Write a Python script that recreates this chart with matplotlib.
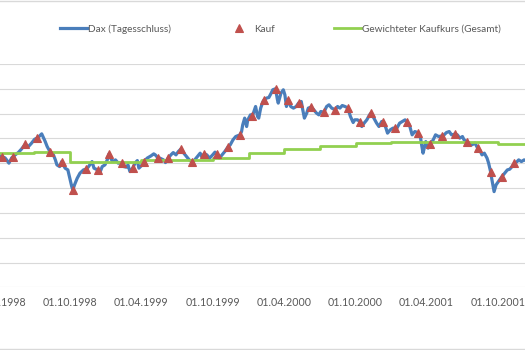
import matplotlib
matplotlib.use('Agg')
import matplotlib.pyplot as plt
import matplotlib.dates as mdates
from matplotlib.lines import Line2D
import pandas as pd

# DAX Tagesschluss (Auszug)
dax_daten = [
    '1998-04-01', '1998-04-08', '1998-04-17', '1998-04-21', '1998-04-27', '1998-05-04',
    '1998-05-08', '1998-05-13', '1998-05-21', '1998-05-29', '1998-06-08', '1998-06-16',
    '1998-06-24', '1998-07-02', '1998-07-09', '1998-07-20', '1998-07-29', '1998-08-03',
    '1998-08-10', '1998-08-19', '1998-08-24', '1998-08-28', '1998-09-04', '1998-09-09',
    '1998-09-18', '1998-09-25', '1998-10-01', '1998-10-05', '1998-10-08', '1998-10-12',
    '1998-10-19', '1998-10-26', '1998-11-04', '1998-11-10', '1998-11-16', '1998-11-23',
    '1998-11-26', '1998-12-01', '1998-12-10', '1998-12-16', '1998-12-22', '1998-12-29',
    '1999-01-04', '1999-01-08', '1999-01-15', '1999-01-19', '1999-01-25', '1999-02-01',
    '1999-02-10', '1999-02-15', '1999-02-22', '1999-02-26', '1999-03-03', '1999-03-10',
    '1999-03-16', '1999-03-22', '1999-03-26', '1999-04-01', '1999-04-09', '1999-04-16',
    '1999-04-26', '1999-05-03', '1999-05-07', '1999-05-13', '1999-05-19', '1999-05-28',
    '1999-06-02', '1999-06-09', '1999-06-16', '1999-06-22', '1999-06-29', '1999-07-05',
    '1999-07-12', '1999-07-19', '1999-07-26', '1999-08-02', '1999-08-10', '1999-08-16',
    '1999-08-23', '1999-08-30', '1999-09-03', '1999-09-10', '1999-09-16', '1999-09-23',
    '1999-10-01', '1999-10-07', '1999-10-11', '1999-10-18', '1999-10-25', '1999-11-01',
    '1999-11-10', '1999-11-15', '1999-11-22', '1999-11-29', '1999-12-10', '1999-12-14',
    '1999-12-17', '1999-12-22', '1999-12-27', '1999-12-30', '2000-01-06', '2000-01-11',
    '2000-01-19', '2000-01-24', '2000-01-27', '2000-02-01', '2000-02-07', '2000-02-10',
    '2000-02-16', '2000-02-22', '2000-02-28', '2000-03-03', '2000-03-10', '2000-03-15',
    '2000-03-17', '2000-03-24', '2000-03-30', '2000-04-03', '2000-04-07', '2000-04-11',
    '2000-04-18', '2000-04-25', '2000-05-02', '2000-05-08', '2000-05-15', '2000-05-18',
    '2000-05-23', '2000-05-29', '2000-06-02', '2000-06-09', '2000-06-16', '2000-06-23',
    '2000-06-29', '2000-07-04', '2000-07-12', '2000-07-19', '2000-07-25', '2000-08-01',
    '2000-08-10', '2000-08-16', '2000-08-22', '2000-08-28', '2000-09-04', '2000-09-11',
    '2000-09-18', '2000-09-25', '2000-09-29', '2000-10-06', '2000-10-13', '2000-10-17',
    '2000-10-23', '2000-10-30', '2000-11-06', '2000-11-10', '2000-11-17', '2000-11-24',
    '2000-11-30', '2000-12-07', '2000-12-11', '2000-12-18', '2000-12-22', '2000-12-29',
    '2001-01-05', '2001-01-10', '2001-01-15', '2001-01-22', '2001-01-29', '2001-02-05',
    '2001-02-09', '2001-02-16', '2001-02-23', '2001-03-02', '2001-03-09', '2001-03-16',
    '2001-03-20', '2001-03-23', '2001-03-30', '2001-04-05', '2001-04-11', '2001-04-18',
    '2001-04-24', '2001-05-02', '2001-05-11', '2001-05-16', '2001-05-22', '2001-05-29',
    '2001-06-04', '2001-06-12', '2001-06-19', '2001-06-25', '2001-07-02', '2001-07-06',
    '2001-07-13', '2001-07-20', '2001-07-26', '2001-08-03', '2001-08-10', '2001-08-15',
    '2001-08-21', '2001-08-27', '2001-09-03', '2001-09-07', '2001-09-12', '2001-09-14',
    '2001-09-18', '2001-09-21', '2001-09-26', '2001-10-05', '2001-10-11', '2001-10-18',
    '2001-10-25', '2001-10-31', '2001-11-06', '2001-11-12', '2001-11-19', '2001-11-23',
    '2001-11-30', '2001-12-07', '2001-12-12',
]
dax_werte = [
    5311, 5271, 5218, 5138, 5005, 5218,
    5271, 5340, 5432, 5570, 5771, 5675,
    5812, 5973, 6014, 6187, 5876, 5675,
    5473, 5340, 5138, 4936, 4867, 5069,
    4803, 4734, 4331, 4060, 3927, 4129,
    4399, 4601, 4734, 4762, 4843, 5005,
    5069, 4803, 4734, 4625, 4867, 4936,
    5138, 5368, 5138, 5069, 5138, 5005,
    5029, 4867, 4843, 4936, 4666, 4803,
    5005, 5110, 4803, 4896, 5069, 5206,
    5299, 5380, 5340, 5231, 5206, 5138,
    5029, 5206, 5340, 5432, 5340, 5473,
    5582, 5408, 5271, 5138, 5045, 5138,
    5271, 5408, 5271, 5380, 5340, 5206,
    5340, 5449, 5380, 5206, 5340, 5473,
    5675, 5743, 5945, 6078, 6147, 6280,
    6550, 6821, 6482, 6752, 6954, 6914,
    7289, 6885, 6821, 7224, 7491, 7559,
    7628, 7652, 7830, 7963, 8003, 7559,
    7426, 7830, 7963, 7761, 7289, 7559,
    7289, 7224, 7289, 7426, 7491, 7224,
    6821, 7023, 7224, 7265, 7156, 7023,
    6954, 7087, 7063, 7289, 7358, 7224,
    7156, 7289, 7224, 7329, 7289, 7236,
    6885, 6643, 6752, 6752, 6672, 6482,
    6619, 6752, 6954, 7023, 6821, 6619,
    6482, 6684, 6684, 6417, 6215, 6349,
    6417, 6417, 6417, 6619, 6684, 6752,
    6659, 6550, 6147, 6280, 6240, 6078,
    5675, 5408, 5876, 5610, 5771, 5945,
    6147, 6078, 6106, 6147, 6240, 6280,
    6147, 6175, 6147, 6014, 6078, 5945,
    5876, 5812, 5743, 5812, 5610, 5541,
    5340, 5408, 5206, 5005, 4666, 4464,
    4129, 3858, 4129, 4331, 4464, 4601,
    4734, 4762, 4867, 5005, 5069, 5138,
    5069, 5138, 5100,
]

# monatliche Kaeufe
kauf_daten = [
    '1998-04-08', '1998-05-08', '1998-06-08', '1998-07-09', '1998-08-10', '1998-09-09',
    '1998-10-08', '1998-11-10', '1998-12-10', '1999-01-08', '1999-02-10', '1999-03-10',
    '1999-04-09', '1999-05-13', '1999-06-09', '1999-07-12', '1999-08-10', '1999-09-10',
    '1999-10-11', '1999-11-10', '1999-12-10', '2000-01-11', '2000-02-10', '2000-03-10',
    '2000-04-11', '2000-05-08', '2000-06-09', '2000-07-12', '2000-08-10', '2000-09-11',
    '2000-10-13', '2000-11-10', '2000-12-11', '2001-01-10', '2001-02-09', '2001-03-09',
    '2001-04-11', '2001-05-11', '2001-06-12', '2001-07-13', '2001-08-10', '2001-09-12',
    '2001-10-11', '2001-11-12',
]

# gewichteter Kaufkurs, quartalsweise
kaufkurs_daten = [
    '1998-04-01', '1998-07-01', '1998-10-01', '1999-04-01', '1999-10-01', '2000-01-01',
    '2000-04-01', '2000-07-01', '2000-10-01', '2001-01-01', '2001-10-01', '2001-12-31',
]
kaufkurs_werte = [
    5432, 5473, 5069, 5138, 5206, 5432,
    5582, 5715, 5812, 5852, 5771, 5771,
]

dax = pd.Series(dax_werte, index=pd.to_datetime(dax_daten))
kauf = dax.loc[pd.to_datetime(kauf_daten)]
kaufkurs = pd.Series(kaufkurs_werte, index=pd.to_datetime(kaufkurs_daten))

plt.rcParams['font.family'] = ['Lato', 'DejaVu Sans']
grau = '#595959'
gitter = '#d9d9d9'
blau = '#4a7ebb'
rot = '#c0504d'
gruen = '#92d050'

fig = plt.figure(figsize=(5.25, 3.5), dpi=100)
# Diagrammflaeche ragt links und rechts etwas ueber den Rand hinaus
ax = fig.add_axes([-10 / 525, 0.179, 545 / 525, 0.638])

ax.plot(dax.index, dax.values, color=blau, lw=2.3,
        solid_joinstyle='round', zorder=2)
ax.step(kaufkurs.index, kaufkurs.values, where='post', color=gruen,
        lw=2, zorder=3)
ax.plot(kauf.index, kauf.values, ls='none', marker='^', ms=5.8, mew=0.8,
        color=rot, zorder=4)

ref = mdates.date2num(pd.Timestamp('1998-10-01'))
ax.set_xlim(ref - 80.2 * 2.562, ref + 464.8 * 2.562)
ax.set_ylim(0, 9000)
ax.set_yticks(range(0, 9001, 1000))

ax.xaxis.set_major_locator(mdates.MonthLocator(bymonth=[4, 10]))
ax.xaxis.set_major_formatter(mdates.DateFormatter('%d.%m.%Y'))
ax.tick_params(axis='x', length=0, pad=7, labelsize=7.7, labelcolor=grau)
ax.tick_params(axis='y', left=False, labelleft=False)
ax.grid(axis='y', color=gitter, lw=0.8)
for s in ax.spines.values():
    s.set_visible(False)

# Legende: drei Eintraege nebeneinander
eintraege = [
    (Line2D([], [], color=blau, lw=2.3), 'Dax (Tagesschluss)', 60),
    (Line2D([], [], ls='none', marker='^', ms=5.8, mew=0.8, color=rot), 'Kauf', 226),
    (Line2D([], [], color=gruen, lw=2), 'Gewichteter Kaufkurs (Gesamt)', 334),
]
for handle, text, x in eintraege:
    fig.legend([handle], [text], loc='center left',
               bbox_to_anchor=(x / 525, 0.917), frameon=False,
               fontsize=7.2, handlelength=2.65, handletextpad=0.2,
               borderpad=0, borderaxespad=0, labelcolor=grau)

# Rahmen oben und unten
fig.add_artist(Line2D([0, 1], [0.998, 0.998], color=gitter, lw=1))
fig.add_artist(Line2D([0, 1], [0.002, 0.002], color=gitter, lw=1))

fig.savefig('out.png', dpi=100)
